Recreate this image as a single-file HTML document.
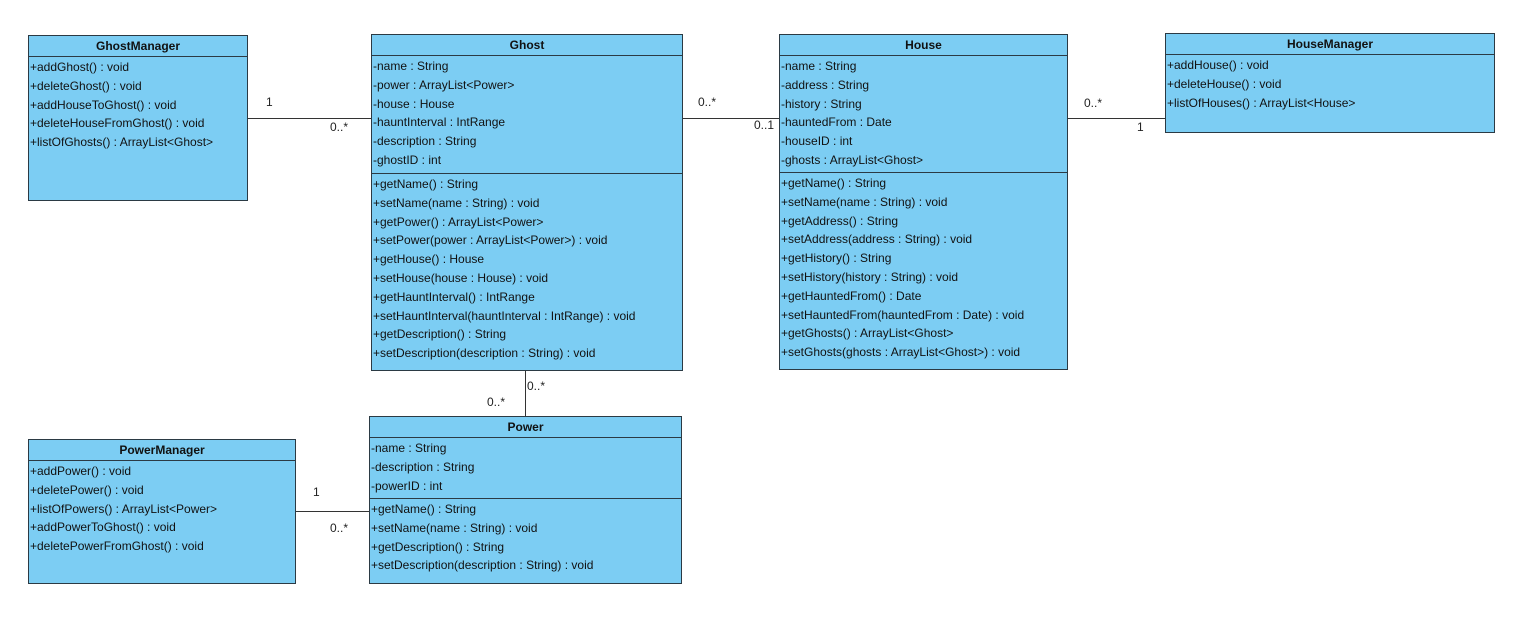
<!DOCTYPE html>
<html><head><meta charset="utf-8"><style>
body{margin:0;width:1523px;height:619px;background:#fff;position:relative;font-family:"Liberation Sans",sans-serif;font-size:12px;color:#111;overflow:hidden}
.b{position:absolute;background:#7ccdf3;border:1px solid #2b3a44;box-sizing:border-box}
.h{height:20px;line-height:20px;text-align:center;font-weight:bold;border-bottom:1px solid #2b3a44}
.s{padding:1px 0 2px 1px;line-height:18.8px;white-space:nowrap;box-sizing:border-box}
.s.d{border-bottom:1px solid #2b3a44}
.l{position:absolute;background:#333}
.t{position:absolute;font-size:12px;color:#222}
</style></head><body>

<div class="b" style="left:28px;top:35px;width:220px;height:166px">
<div class="h">GhostManager</div>
<div class="s">+addGhost() : void<br>+deleteGhost() : void<br>+addHouseToGhost() : void<br>+deleteHouseFromGhost() : void<br>+listOfGhosts() : ArrayList&lt;Ghost&gt;</div>
</div>

<div class="b" style="left:371px;top:34px;width:312px;height:337px">
<div class="h">Ghost</div>
<div class="s d" style="height:118px">-name : String<br>-power : ArrayList&lt;Power&gt;<br>-house : House<br>-hauntInterval : IntRange<br>-description : String<br>-ghostID : int</div>
<div class="s">+getName() : String<br>+setName(name : String) : void<br>+getPower() : ArrayList&lt;Power&gt;<br>+setPower(power : ArrayList&lt;Power&gt;) : void<br>+getHouse() : House<br>+setHouse(house : House) : void<br>+getHauntInterval() : IntRange<br>+setHauntInterval(hauntInterval : IntRange) : void<br>+getDescription() : String<br>+setDescription(description : String) : void</div>
</div>

<div class="b" style="left:779px;top:34px;width:289px;height:336px">
<div class="h">House</div>
<div class="s d" style="height:117px">-name : String<br>-address : String<br>-history : String<br>-hauntedFrom : Date<br>-houseID : int<br>-ghosts : ArrayList&lt;Ghost&gt;</div>
<div class="s">+getName() : String<br>+setName(name : String) : void<br>+getAddress() : String<br>+setAddress(address : String) : void<br>+getHistory() : String<br>+setHistory(history : String) : void<br>+getHauntedFrom() : Date<br>+setHauntedFrom(hauntedFrom : Date) : void<br>+getGhosts() : ArrayList&lt;Ghost&gt;<br>+setGhosts(ghosts : ArrayList&lt;Ghost&gt;) : void</div>
</div>

<div class="b" style="left:1165px;top:33px;width:330px;height:100px">
<div class="h">HouseManager</div>
<div class="s">+addHouse() : void<br>+deleteHouse() : void<br>+listOfHouses() : ArrayList&lt;House&gt;</div>
</div>

<div class="b" style="left:369px;top:416px;width:313px;height:168px">
<div class="h">Power</div>
<div class="s d" style="height:61px">-name : String<br>-description : String<br>-powerID : int</div>
<div class="s">+getName() : String<br>+setName(name : String) : void<br>+getDescription() : String<br>+setDescription(description : String) : void</div>
</div>

<div class="b" style="left:28px;top:439px;width:268px;height:145px">
<div class="h">PowerManager</div>
<div class="s">+addPower() : void<br>+deletePower() : void<br>+listOfPowers() : ArrayList&lt;Power&gt;<br>+addPowerToGhost() : void<br>+deletePowerFromGhost() : void</div>
</div>

<div class="l" style="left:248px;top:118px;width:123px;height:1px"></div>
<div class="t" style="left:266px;top:95px">1</div>
<div class="t" style="left:330px;top:120px">0..*</div>

<div class="l" style="left:683px;top:118px;width:96px;height:1px"></div>
<div class="t" style="left:698px;top:95px">0..*</div>
<div class="t" style="left:754px;top:118px">0..1</div>

<div class="l" style="left:1068px;top:118px;width:97px;height:1px"></div>
<div class="t" style="left:1084px;top:96px">0..*</div>
<div class="t" style="left:1137px;top:120px">1</div>

<div class="l" style="left:525px;top:371px;width:1px;height:45px"></div>
<div class="t" style="left:527px;top:379px">0..*</div>
<div class="t" style="left:487px;top:395px">0..*</div>

<div class="l" style="left:296px;top:511px;width:73px;height:1px"></div>
<div class="t" style="left:313px;top:485px">1</div>
<div class="t" style="left:330px;top:521px">0..*</div>
</body></html>
